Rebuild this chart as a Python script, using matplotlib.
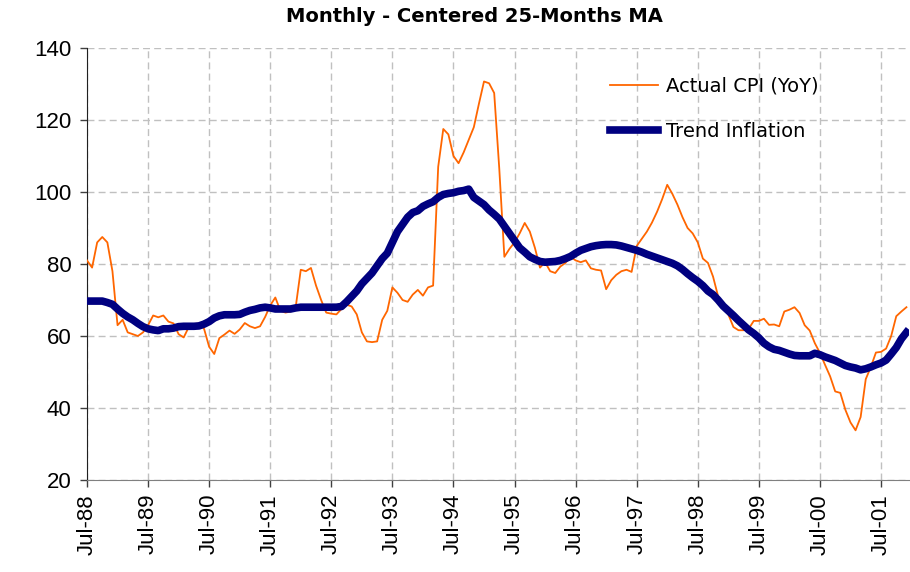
import numpy as np
import matplotlib
matplotlib.use("Agg")
import matplotlib.pyplot as plt

# monthly observations, Jul-88 onwards
actual_cpi = [
    81, 79, 86, 87.5, 86, 78, 63, 64.5, 61, 60.5,
    60, 61, 63, 65.7, 65.2, 65.7, 64, 63.5, 60.5, 59.6,
    62.5, 63.3, 63.5, 62, 57, 55, 59.4, 60.4, 61.5, 60.6,
    61.8, 63.6, 62.7, 62.2, 62.7, 65.3, 68.5, 70.7, 67, 66.5,
    66.8, 68, 78.4, 78, 78.9, 74, 70, 66.5, 66.2, 66,
    67.5, 68.7, 68.2, 66, 61, 58.5, 58.3, 58.5, 64.5, 67,
    73.5, 72, 70, 69.5, 71.5, 72.8, 71.2, 73.5, 74, 107,
    117.5, 116, 110, 108, 111, 114.5, 118, 124.5, 130.7, 130.2,
    127.5, 106.5, 82, 84.2, 86, 88.5, 91.4, 89, 84.5, 79,
    80.5, 78, 77.5, 79.3, 80.3, 82, 81, 80.5, 81, 78.8,
    78.4, 78.2, 73, 75.5, 77, 78, 78.4, 77.8, 85, 87,
    89, 91.5, 94.5, 98, 102, 99.5, 96.5, 93, 90, 88.5,
    86, 81.5, 80.3, 76.5, 71, 68.5, 66, 62.5, 61.6, 61.6,
    62, 64.2, 64.2, 64.8, 63.1, 63.2, 62.7, 66.8, 67.3, 68,
    66.4, 63, 61.5, 58, 55.3, 52, 48.8, 44.6, 44.2, 39.5,
    36, 33.8, 37.5, 48, 51.4, 55.4, 55.6, 56.5, 60, 65.5,
    66.8, 68,
]

trend_inflation = [
    69.7, 69.7, 69.7, 69.7, 69.3, 68.8, 67.5, 66.3, 65.3, 64.5,
    63.5, 62.6, 62, 61.7, 61.5, 62, 62, 62.2, 62.6, 62.7,
    62.7, 62.7, 62.8, 63.3, 64, 65, 65.6, 65.9, 65.9, 65.9,
    66, 66.6, 67.1, 67.4, 67.8, 68, 67.8, 67.5, 67.5, 67.5,
    67.5, 67.8, 68, 68, 68, 68, 68, 68, 68, 68,
    68.2, 69.5, 71, 72.5, 74.5, 76, 77.5, 79.5, 81.5, 83,
    86, 89, 91, 93, 94.3, 94.8, 96, 96.7, 97.3, 98.5,
    99.3, 99.6, 99.8, 100.2, 100.4, 100.8, 98.5, 97.5, 96.5, 95,
    93.8, 92.5, 90.5, 88.5, 86.5, 84.5, 83.3, 82, 81.3, 80.7,
    80.5, 80.6, 80.7, 81, 81.5, 82.1, 83, 83.8, 84.3, 84.8,
    85.1, 85.3, 85.4, 85.4, 85.3, 85, 84.6, 84.2, 83.8, 83.3,
    82.7, 82.2, 81.7, 81.2, 80.7, 80.2, 79.5, 78.5, 77.3, 76.2,
    75.2, 74, 72.5, 71.5, 70, 68.3, 67, 65.7, 64.3, 63,
    61.7, 60.7, 59.5, 58, 57, 56.3, 56, 55.5, 55, 54.6,
    54.5, 54.5, 54.5, 55.2, 54.8, 54.2, 53.7, 53.2, 52.5, 51.8,
    51.4, 51.1, 50.6, 50.9, 51.4, 52, 52.5, 53.3, 55, 56.8,
    59.2, 61,
]

tick_labels = ["Jul-88", "Jul-89", "Jul-90", "Jul-91", "Jul-92", "Jul-93", "Jul-94",
               "Jul-95", "Jul-96", "Jul-97", "Jul-98", "Jul-99", "Jul-00", "Jul-01"]

months = np.arange(len(actual_cpi))
tick_pos = np.arange(len(tick_labels)) * 12

fig = plt.figure(figsize=(9.1, 5.72), dpi=100)
ax = fig.add_axes([87/910, 92/572, 822/910, 432/572])

ax.plot(months, actual_cpi, color="#FF6600", lw=1.3, label="Actual CPI (YoY)", zorder=3)
ax.plot(months, trend_inflation, color="#000080", lw=5.5, label="Trend Inflation", zorder=4)

ax.set_xlim(0, 161.5)
ax.set_ylim(20, 140)
ax.set_yticks(np.arange(20, 141, 20))
ax.set_xticks(tick_pos)
ax.set_xticklabels(tick_labels, rotation=90, fontsize=16, family="Liberation Sans")
for lbl in ax.get_yticklabels():
    lbl.set_fontsize(16)
    lbl.set_family("Liberation Sans")

ax.grid(True, color="#C0C0C0", lw=1, linestyle=(0, (5, 3)))
ax.set_axisbelow(True)
for s in ["top", "right"]:
    ax.spines[s].set_visible(False)
ax.spines["left"].set_color("#202020")
ax.spines["bottom"].set_color("#808080")
ax.tick_params(axis="both", direction="out", length=5, width=1, color="#404040")
ax.tick_params(axis="y", pad=6)
ax.tick_params(axis="x", pad=5)

leg = ax.legend(loc="upper left", bbox_to_anchor=(0.624, 0.956), frameon=False,
                prop={"family": "DejaVu Sans", "size": 14}, handlelength=2.5,
                handletextpad=0.4, labelspacing=1.36, borderpad=0)

fig.text(474/910, 1 - 16/572, "Monthly - Centered 25-Months MA", ha="center", va="center",
         fontsize=14, fontweight="bold", family="DejaVu Sans")

fig.savefig("out.png", dpi=100)
